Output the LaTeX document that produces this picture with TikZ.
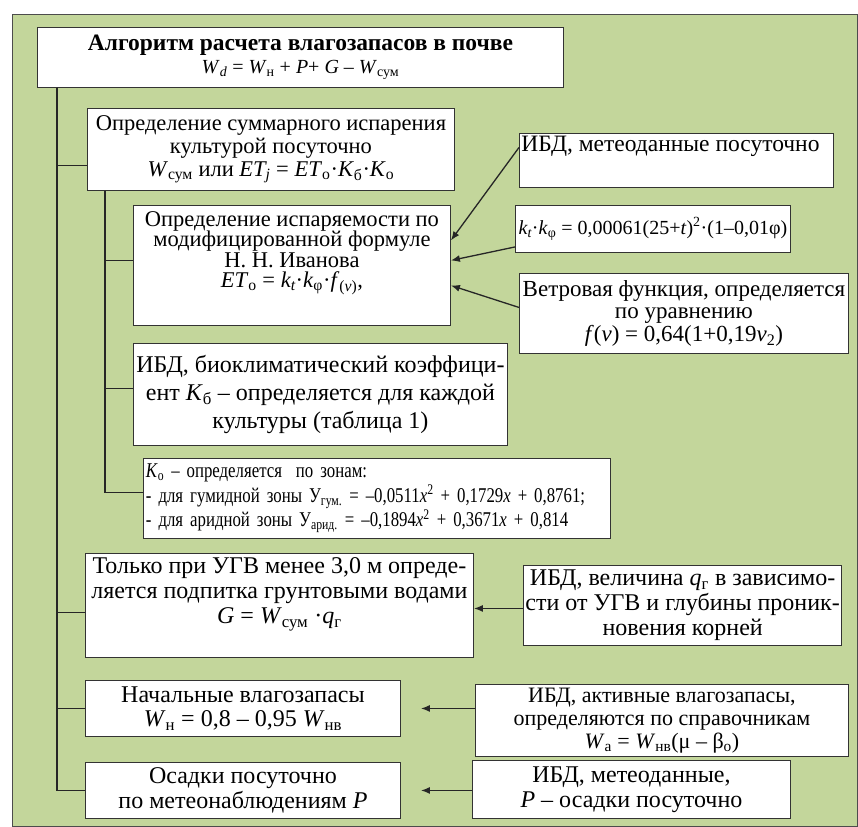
\documentclass[tikz,border=0pt]{standalone}
\usepackage{fontspec}
\setmainfont{Liberation Serif}
\newfontfamily\narrowfont{Liberation Serif}[FakeStretch=0.8]
\usetikzlibrary{arrows.meta}

\definecolor{bggreen}{RGB}{195,214,155}
\newcommand{\iv}[1]{\textit{#1}}
\newcommand{\lo}[1]{\textsubscript{#1}}
\newcommand{\fs}[2]{\fontsize{#1}{#2}\selectfont}

\begin{document}
\begin{tikzpicture}[x=1pt,y=-1pt,
    box/.style={draw=black!80,line width=0.9pt,fill=white,inner sep=2pt,anchor=north west,
      align=center,font=\fs{22.5}{23}},
    link/.style={line width=1.3pt,black!85},
    arr/.style={line width=1.3pt,black!85,-{Latex[length=9pt,width=7pt]}}]
  \useasboundingbox (0,0) rectangle (858,826);
  \fill[white] (0,0) rectangle (858,826);
  \draw[black!70,fill=bggreen] (12,14) rectangle (857,826);

  % main column
  \node[box,minimum width=526pt,minimum height=60pt] (title) at (37,27)
    {{\fs{23.5}{26}\bfseries Алгоритм расчета влагозапасов в почве}\\
     {\fs{20}{24}\iv{W}\lo{\iv{d}} = \iv{W}\lo{н} + \iv{P}+ \iv{G} – \iv{W}\lo{сум}}};
  \node[box,minimum width=367pt,minimum height=82pt] (sumevap) at (87,108)
    {Определение суммарного испарения\\ культурой посуточно\\
     \iv{W}\lo{сум} или \iv{ET\lo{j}} = \iv{ET}\lo{о}·\iv{K}\lo{б}·\iv{K}\lo{о}};
  \node[box,minimum width=317pt,minimum height=120pt] (potevap) at (133,205)
    {\parbox[c][114pt][t]{313pt}{\centering\fs{22.5}{20.5}\vspace{3pt}
     Определение испаряемости по\\ модифицированной формуле\\ Н. Н. Иванова\\
     \iv{ET}\lo{о} = \iv{k\lo{t}}·\iv{k}\lo{φ}·\iv{f}\lo{(\iv{v})},}};
  \node[box,minimum width=374pt,minimum height=102pt,font=\fs{24}{28}] (biocoef) at (133,343)
    {ИБД, биоклиматический коэффици-\\ ент \iv{K}\lo{б} – определяется для каждой\\ культуры (таблица 1)};
  \node[box,minimum width=467pt,minimum height=80pt,text width=462pt,align=left,
        inner sep=2.5pt,font=\fs{21}{24.5}\narrowfont] (zonecoef) at (143,458)
    {\iv{K}\lo{о} – определяется\ \ по зонам:\\
     - для гумидной зоны У\lo{гум.} = –0,0511\iv{x}\textsuperscript{2} + 0,1729\iv{x} + 0,8761;\\
     - для аридной зоны У\lo{арид.} = –0,1894\iv{x}\textsuperscript{2} + 0,3671\iv{x} + 0,814};
  \node[box,minimum width=388pt,minimum height=104pt] (ground) at (85,553)
    {\parbox[c][98pt][t]{384pt}{\centering\fs{24}{25}\vspace{1pt}
     Только при УГВ менее 3,0 м опреде-\\
     ляется подпитка грунтовыми водами\\ \iv{G} = \iv{W}\lo{сум} ·\iv{q}\lo{г}}};
  \node[box,minimum width=315pt,minimum height=56pt,font=\fs{24}{24.5}] (initstore) at (85,680)
    {Начальные влагозапасы\\ \iv{W}\lo{н} = 0,8 – 0,95 \iv{W}\lo{нв}};
  \node[box,minimum width=315pt,minimum height=56pt,font=\fs{24}{24.5}] (rain) at (85,762)
    {Осадки посуточно\\ по метеонаблюдениям \iv{P}};

  % data sources
  \node[box,minimum width=314pt,minimum height=54pt] (meteo) at (519,133)
    {\parbox[c][50pt][t]{310pt}{\raggedright\fs{23.5}{24}\vspace{1pt}ИБД, метеоданные посуточно}};
  \node[box,minimum width=275pt,minimum height=47pt,font=\fs{20}{22}] (kform) at (515,205)
    {\iv{k\lo{t}}·\iv{k}\lo{φ} = 0,00061(25+\iv{t})\textsuperscript{2}·(1–0,01φ)};
  \node[box,minimum width=329pt,minimum height=80pt,font=\fs{23}{22.5}] (windf) at (519,273)
    {Ветровая функция, определяется\\ по уравнению\\ \iv{f}(\iv{v}) = 0,64(1+0,19\iv{v}\lo{2})};
  \node[box,minimum width=317pt,minimum height=80pt,font=\fs{24}{25}] (qground) at (523,565)
    {ИБД, величина \iv{q}\lo{г} в зависимо-\\ сти от УГВ и глубины проник-\\ новения корней};
  \node[box,minimum width=373pt,minimum height=72pt,font=\fs{22}{23}] (activ) at (475,684)
    {ИБД, активные влагозапасы,\\ определяются по справочникам\\ \iv{W}\lo{а} = \iv{W}\lo{нв}(μ – β\lo{о})};
  \node[box,minimum width=318pt,minimum height=58pt,font=\fs{24}{25}] (rainsrc) at (472,760)
    {ИБД, метеоданные,\\ \iv{P} – осадки посуточно};

  % tree lines
  \coordinate (trunk) at ([xshift=20pt]title.south west);
  \coordinate (subtrunk) at ([xshift=18pt]sumevap.south west);
  \draw[link] (trunk) |- ([yshift=-16pt]sumevap.west);
  \draw[link] (trunk) |- ([yshift=-7pt]ground.west);
  \draw[link] (trunk) |- (initstore.west);
  \draw[link] (trunk) |- (rain.west);
  \draw[link] (subtrunk) |- ([yshift=5pt]potevap.west);
  \draw[link] (subtrunk) |- ([yshift=6pt]biocoef.west);
  \draw[link] (subtrunk) |- ([yshift=6pt]zonecoef.west);

  % arrows
  \draw[arr] ([yshift=13pt]meteo.west) -- ([yshift=25pt]potevap.east);
  \draw[arr] ([yshift=-18pt]kform.west) -- ([yshift=5pt]potevap.east);
  \draw[arr] ([yshift=6pt]windf.west) -- ([yshift=-20pt]potevap.east);
  \draw[arr] ([yshift=-3pt]qground.west) -- ([yshift=-3pt]ground.east);
  \draw[arr] (activ.west |- initstore.east) -- ([xshift=20pt]initstore.east);
  \draw[arr] (rainsrc.west |- rain.east) -- ([xshift=20pt]rain.east);
\end{tikzpicture}
\end{document}
